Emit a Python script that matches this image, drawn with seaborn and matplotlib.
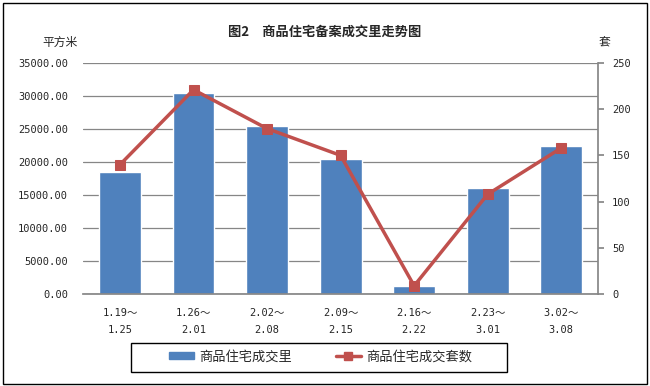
import matplotlib
matplotlib.use("Agg")
import matplotlib.pyplot as plt
import seaborn as sns
import pandas as pd
import numpy as np
from matplotlib.patches import Rectangle
from matplotlib.lines import Line2D
from matplotlib.patches import Patch

categories = ["1.19～\n1.25", "1.26～\n2.01", "2.02～\n2.08", "2.09～\n2.15",
              "2.16～\n2.22", "2.23～\n3.01", "3.02～\n3.08"]
area = [18500, 30400, 25500, 20500, 1250, 16000, 22450]
units = [140, 221, 179, 150, 9, 108, 158]
left_ticks = [0, 5000, 10000, 15000, 20000, 25000, 30000, 35000]
right_ticks = [0, 50, 100, 150, 200, 250]

sns.set_theme(style="white")
plt.rcParams['font.family'] = ['Noto Sans CJK SC', 'DejaVu Sans']
mono = ['DejaVu Sans Mono', 'Noto Sans CJK SC']

bar_color = "#4F81BD"
line_color = "#C0504D"

df = pd.DataFrame({"cat": categories, "area": area, "units": units})

fig = plt.figure(figsize=(6.5, 3.86), dpi=100)
ax = fig.add_axes([0.128, 0.238, 0.792, 0.599])

sns.barplot(data=df, x="cat", y="area", color=bar_color, width=0.57,
            saturation=1, ax=ax, zorder=2)
ax.set_ylim(0, 35000)
ax.set_yticks(left_ticks)
ax.set_yticklabels([f"{v:.2f}" for v in left_ticks], fontsize=7.5, family=mono)
ax.grid(axis="y", color="#868686", linewidth=0.9, zorder=0)
ax.set_axisbelow(True)
ax.set_xlabel("")
ax.set_ylabel("")
ax.set_xticks(range(len(categories)))
ax.set_xticklabels(categories, fontsize=7.5, family=mono, linespacing=1.9)
ax.tick_params(axis="x", length=0, pad=10)
ax.tick_params(axis="y", length=0, pad=11)
for s in ["top", "left", "right"]:
    ax.spines[s].set_visible(False)
ax.spines["bottom"].set_color("#868686")
ax.set_xlim(-0.5, 6.5)

ax2 = ax.twinx()
xpos = np.arange(len(categories))
sns.lineplot(x=xpos, y=units, ax=ax2, color=line_color, linewidth=2.5,
             marker="s", markersize=7, markeredgecolor=line_color, zorder=5)
ax2.set_ylim(0, 250)
ax2.set_yticks(right_ticks)
ax2.set_yticklabels([str(v) for v in right_ticks], fontsize=7.5, family=mono)
ax2.tick_params(axis="y", length=4, color="#868686", pad=6, direction="out")
for s in ["top", "left", "bottom"]:
    ax2.spines[s].set_visible(False)
ax2.spines["right"].set_color("#868686")
ax2.set_ylabel("")
ax2.set_xlim(-0.5, 6.5)

fig.text(0.5, 0.917, "图2　商品住宅备案成交里走势图", ha="center", va="center",
         fontsize=9.5, fontweight="bold")
fig.text(0.093, 0.89, "平方米", ha="center", va="center", fontsize=8.5)
fig.text(0.93, 0.89, "套", ha="center", va="center", fontsize=8.5)

handles = [Patch(facecolor=bar_color, edgecolor=bar_color),
           Line2D([0], [0], color=line_color, linewidth=2.5, marker="s",
                  markersize=6)]
leg = fig.legend(handles, ["商品住宅成交里", "商品住宅成交套数"], ncol=2,
                 loc="center", bbox_to_anchor=(0.493, 0.075), fontsize=9.5,
                 frameon=False, handlelength=1.9, handleheight=0.45,
                 handletextpad=0.4, columnspacing=3.3, borderpad=0,
                 borderaxespad=0)

fig.patches.append(Rectangle((0.2015, 0.0363), 0.578, 0.075, transform=fig.transFigure,
                             fill=False, edgecolor="black", linewidth=1))
fig.patches.append(Rectangle((0.004, 0.006), 0.991, 0.985, transform=fig.transFigure,
                             fill=False, edgecolor="black", linewidth=1))

fig.savefig("out.png", dpi=100)
